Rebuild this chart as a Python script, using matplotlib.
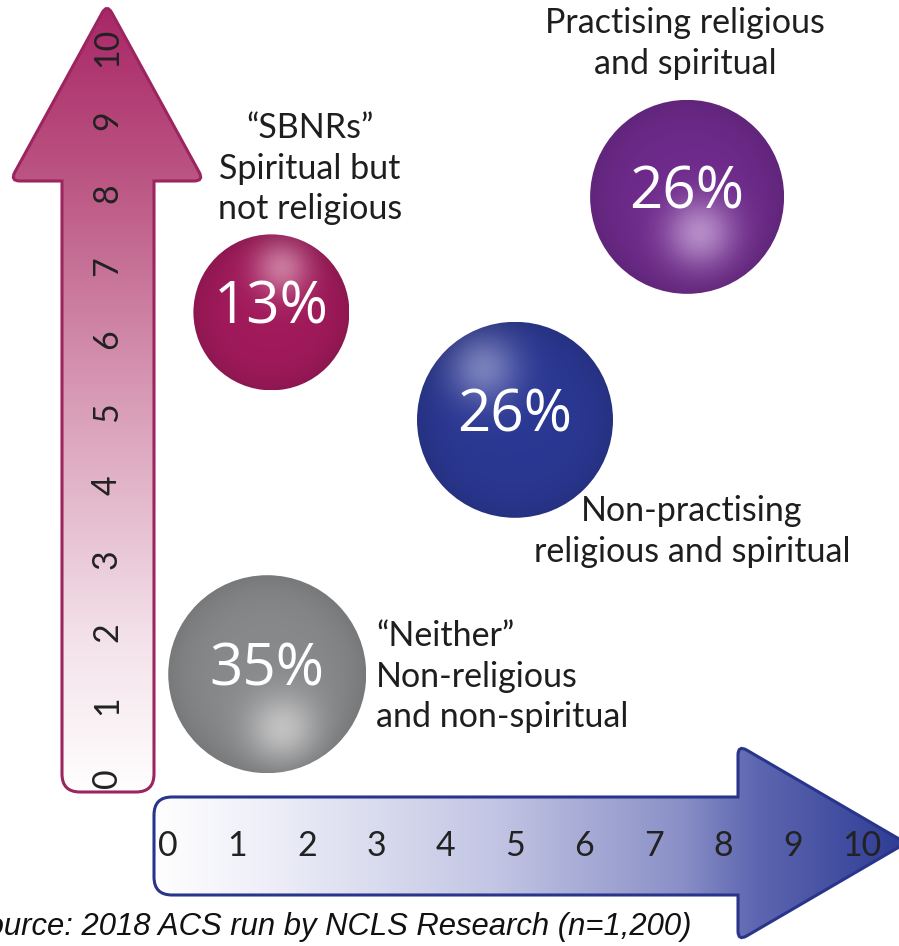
import numpy as np
import matplotlib
matplotlib.use('Agg')
import matplotlib.pyplot as plt
from matplotlib.path import Path
from matplotlib.patches import PathPatch, Ellipse
from matplotlib.colors import to_rgb

# data
scale_ticks = list(range(11))
groups = ['Neither', 'SBNRs', 'Non-practising', 'Practising']
pct = [35, 13, 26, 26]
religious = [1.43, 1.49, 5.0, 7.48]     # position on the religious (x) scale
spiritual = [1.42, 6.37, 4.90, 7.95]    # position on the spiritual (y) scale
group_text = ['\u201cNeither\u201d\nNon-religious\nand non-spiritual',
              '\u201cSBNRs\u201d\nSpiritual but\nnot religious',
              'Non-practising\nreligious and spiritual',
              'Practising religious\nand spiritual']

# style
W, H = 899, 946
X0, XS = 168, 69.4   # pixel of x=0, pixels per unit
Y0, YS = 778, 73.1
radius = [99, 78, 98, 97]
base_col = ['#88898b', '#a11a5b', '#2b3893', '#6e2a8b']
hl_col = ['#d2d2d2', '#d690b0', '#8d93c9', '#c6a3d6']
hl_off = [(16, 56), (11, -45), (-32, -53), (13, 36)]
text_pos = [(376, 635, 'left'), (310, 127, 'center'), (692, 510, 'center'), (685, 22, 'center')]

def px2x(p):
    return (np.asarray(p) - X0) / XS

def px2y(p):
    return (Y0 - np.asarray(p)) / YS

def x2px(v):
    return X0 + np.asarray(v) * XS

def y2px(v):
    return Y0 - np.asarray(v) * YS

def rounded_path(pts, radii):
    verts, codes = [], []
    n = len(pts)
    for i in range(n):
        p = np.array(pts[i], float)
        r = radii[i]
        if r == 0:
            verts.append(p)
            codes.append(Path.LINETO)
            continue
        prv = np.array(pts[i - 1], float)
        nxt = np.array(pts[(i + 1) % n], float)
        d1 = (prv - p) / np.linalg.norm(prv - p)
        d2 = (nxt - p) / np.linalg.norm(nxt - p)
        verts += [p + d1 * r, p, p + d2 * r]
        codes += [Path.LINETO, Path.CURVE3, Path.CURVE3]
    codes[0] = Path.MOVETO
    verts.append(verts[0])
    codes.append(Path.CLOSEPOLY)
    v = np.array(verts)
    v = np.column_stack([px2x(v[:, 0]), px2y(v[:, 1])])
    return Path(v, codes)

def gradient(stops, n):
    pos = [s[0] for s in stops]
    cols = np.array([to_rgb(s[1]) for s in stops])
    t = np.linspace(0, 1, n)
    return np.column_stack([np.interp(t, pos, cols[:, k]) for k in range(3)])

plt.rcParams['font.family'] = ['Lato', 'DejaVu Sans']
fig = plt.figure(figsize=(W / 100, H / 100), dpi=100)
ax = fig.add_axes([0, 0, 1, 1])
ax.axis('off')

# vertical arrow (spiritual scale)
vpts = [(62, 792), (62, 181), (10, 181), (107, 4), (204, 181), (154, 181), (154, 792)]
vpath = rounded_path(vpts, [18, 0, 10, 10, 10, 0, 18])
vpatch = PathPatch(vpath, facecolor='none', edgecolor='#9c2560', lw=2.2, zorder=3)
ax.add_patch(vpatch)
vg = gradient([(0, '#a82667'), (0.2, '#b9507f'), (0.5, '#d89bb6'), (0.8, '#f3e1e9'), (1, '#ffffff')], 400)
im = ax.imshow(vg[:, None, :], extent=(px2x(5), px2x(210), px2y(795), px2y(2)),
               origin='upper', aspect='auto', zorder=2)
im.set_clip_path(vpatch)

# horizontal arrow (religious scale)
hpts = [(154, 797), (738, 797), (738, 745), (906, 843), (738, 941), (738, 895), (154, 895)]
hpath = rounded_path(hpts, [18, 0, 10, 0, 10, 0, 18])
hpatch = PathPatch(hpath, facecolor='none', edgecolor='#29358a', lw=2.2, zorder=3)
ax.add_patch(hpatch)
hg = gradient([(0, '#ffffff'), (0.15, '#eeeff8'), (0.45, '#c3c6e4'), (0.7, '#8a90c7'), (0.8, '#5d66b0'), (1, '#2d3b94')], 500)
im = ax.imshow(hg[None, :, :], extent=(px2x(152), px2x(908), px2y(943), px2y(743)),
               origin='upper', aspect='auto', zorder=2)
im.set_clip_path(hpatch)

# tick labels on both arrows
for t in scale_ticks:
    ax.text(px2x(107), t, str(t), rotation=90, ha='center', va='center',
            fontsize=24.5, color='#222222', zorder=4)
    ax.text(t, px2y(846), str(t), ha='center', va='center',
            fontsize=24.5, color='#222222', zorder=4)

# bubbles
for i in range(len(groups)):
    cx, cy, r = x2px(religious[i]), y2px(spiritual[i]), radius[i]
    n = 240
    gx, gy = np.meshgrid(np.linspace(cx - r, cx + r, n), np.linspace(cy - r, cy + r, n))
    hx, hy = cx + hl_off[i][0], cy + hl_off[i][1]
    w = 0.8 * np.exp(-((gx - hx) ** 2 + (gy - hy) ** 2) / (0.36 * r) ** 2)
    rho = np.sqrt((gx - cx) ** 2 + (gy - cy) ** 2) / r
    dark = 1 - 0.12 * np.clip(rho, 0, 1) ** 4
    b = np.array(to_rgb(base_col[i]))
    h = np.array(to_rgb(hl_col[i]))
    img = (b[None, None, :] * (1 - w[..., None]) + h[None, None, :] * w[..., None]) * dark[..., None]
    ell = Ellipse((religious[i], spiritual[i]), 2 * r / XS, 2 * r / YS,
                  facecolor='none', edgecolor='none', zorder=5)
    ax.add_patch(ell)
    im = ax.imshow(np.clip(img, 0, 1), extent=(px2x(cx - r), px2x(cx + r), px2y(cy + r), px2y(cy - r)),
                   origin='upper', aspect='auto', zorder=5)
    im.set_clip_path(ell)
    ax.text(religious[i], spiritual[i] + 0.05, f'{pct[i]}%', ha='center', va='center',
            fontsize=42, family='Open Sans', color='white', zorder=6)
    tx, ty, ha = text_pos[i]
    ax.text(px2x(tx), px2y(ty - 15), group_text[i], ha=ha, va='top', fontsize=24.5,
            color='#1e1e1e', linespacing=1.33, zorder=6)

ax.text(px2x(692), px2y(935), 'Source: 2018 ACS run by NCLS Research (n=1,200)',
        ha='right', va='baseline', fontsize=22.3, style='italic',
        family='Liberation Sans', color='#111111', zorder=6)

ax.set_xlim(px2x(0), px2x(W))
ax.set_ylim(px2y(H), px2y(0))
fig.savefig('out.png', dpi=100)
